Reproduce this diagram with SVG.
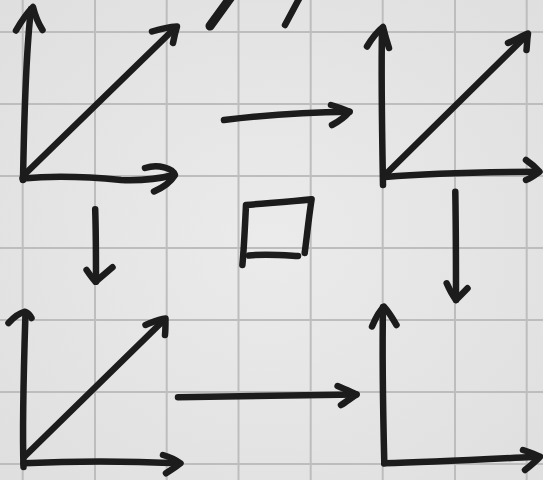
<svg xmlns="http://www.w3.org/2000/svg" width="543" height="480" viewBox="0 0 543 480">
<style>
.ink{fill:none;stroke:#1c1c1c;stroke-width:6.5;stroke-linecap:round;stroke-linejoin:round}
.grid{stroke:#bdbdbd;stroke-width:2}
</style>
<defs>
<radialGradient id="bg" cx="50%" cy="50%" r="70%">
<stop offset="0" stop-color="#ebebeb"/>
<stop offset="1" stop-color="#dfdfdf"/>
</radialGradient>
</defs>
<rect width="543" height="480" fill="url(#bg)"/>
<g id="grid" class="grid">
<line x1="22.7" y1="0" x2="22.7" y2="480"/>
<line x1="95" y1="0" x2="95" y2="480"/>
<line x1="166.7" y1="0" x2="166.7" y2="480"/>
<line x1="238.5" y1="0" x2="238.5" y2="480"/>
<line x1="310.7" y1="0" x2="310.7" y2="480"/>
<line x1="382.7" y1="0" x2="382.7" y2="480"/>
<line x1="455" y1="0" x2="455" y2="480"/>
<line x1="526.7" y1="0" x2="526.7" y2="480"/>
<line x1="0" y1="32" x2="543" y2="32"/>
<line x1="0" y1="104" x2="543" y2="104"/>
<line x1="0" y1="176" x2="543" y2="176"/>
<line x1="0" y1="248" x2="543" y2="248"/>
<line x1="0" y1="320" x2="543" y2="320"/>
<line x1="0" y1="392" x2="543" y2="392"/>
<line x1="0" y1="464" x2="543" y2="464"/>
</g>
<g id="top-marks" class="ink">
<path d="M210,26 L231,-3" style="stroke-width:9"/>
<path d="M285,25 L300,-3"/>
</g>
<g id="frame-top-left" class="ink">
<path d="M23,180 C24,130 25,60 31,9"/>
<path d="M16,30.5 C22,20 28,12 33,7 C35,15 38,23 42.5,30"/>
<path d="M24,175 L175,28"/>
<path d="M152,31.5 C162,28.5 170,27 177,26.5 C175,33 174,38 173,43"/>
<path d="M22.5,178.5 C50,176 90,177 121,180 C145,181 162,178 174,175"/>
<path d="M145,168 C158,164 173,168 175,175 C170,183 162,188 154,191.5"/>
</g>
<g id="frame-top-right" class="ink">
<path d="M383,185 C382,130 381,80 382,29"/>
<path d="M367,46.5 C372,38 378,31 383,27 C385,35 387,42 389,48"/>
<path d="M385,175 L527,35"/>
<path d="M508,43 C515,40 522,36 528,33.5 C527,40 527,45 526.5,50"/>
<path d="M385,177 C430,173 480,172 538,171.7"/>
<path d="M526,160 C532,164 536,168 539.5,171.7 C535,175 531,178 526,180"/>
</g>
<g id="frame-bottom-left" class="ink">
<path d="M23.5,467 C22,420 24,360 25.5,313"/>
<path d="M8.5,323 C14,317 20,313 25,311.7 C28,313 30,315 31.5,318"/>
<path d="M24,457 L164,320"/>
<path d="M145.5,325 C153,322 159,319 165.5,318.5 C165.5,325 165.5,330 165,335"/>
<path d="M23.5,463.3 C70,461 130,461 178,463.3"/>
<path d="M163,455 C170,457 176,460 180.5,463.3 C176,467 171,470 166,473.3"/>
</g>
<g id="frame-bottom-right" class="ink">
<path d="M384.3,463.3 C383,410 382,360 383,307"/>
<path d="M372,326.5 C376,317 380,310 384,306.7 C389,312 393,319 396.5,325"/>
<path d="M384.3,463.3 C430,462 490,459 538,456.7"/>
<path d="M523,450 C529,452 535,454 540,456.7 C536,461 530,466 525,470"/>
</g>
<g id="square" class="ink">
<path d="M304.7,253 C307,235 309,216 311.6,199.3 C290,202 268,203 246,205 C245,226 244,248 242.4,265"/>
<path d="M249,255.5 C265,253.5 282,255 298,256"/>
</g>
<g id="connectors" class="ink">
<path d="M224,120 C265,115 310,112 349.5,111.7"/>
<path d="M331,105 C338,107 344,109 349.5,111.7 C345,117 338,122 332,125"/>
<path d="M95.2,209.3 C96,233 96,258 96,281.7"/>
<path d="M86.6,270 C90,275 93,279 95.5,281.7 C101,277 107,272 112.5,267.3"/>
<path d="M455.3,191.7 C456,230 456,265 456,300"/>
<path d="M446.7,283.3 C450,291 453,296 456,300 C460,296 464,292 467.5,288.3"/>
<path d="M178,397.3 C240,396 300,395 356.5,394.5"/>
<path d="M337.6,386 C345,389 351,392 356.5,394.5 C351,398 346,402 341,405"/>
</g>
</svg>
